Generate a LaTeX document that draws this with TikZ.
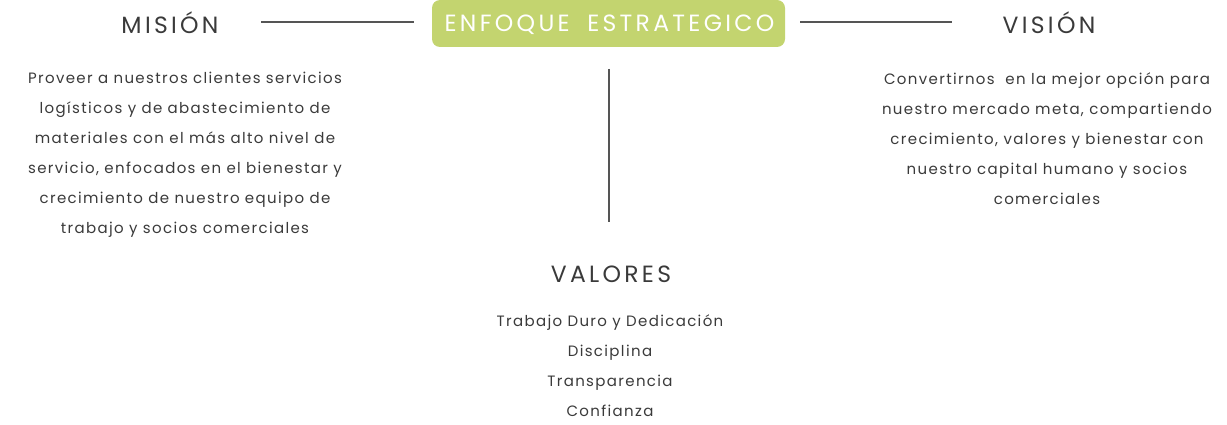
\documentclass[tikz,border=0pt]{standalone}
\usepackage{fontspec}
\setmainfont{Poppins}
\newfontfamily\spaced[LetterSpace=14]{Poppins}
\newfontfamily\bodyf[LetterSpace=9]{Poppins}
\definecolor{greenbox}{HTML}{C3D46F}
\definecolor{txt}{HTML}{3A3A3A}
\definecolor{linec}{HTML}{555555}
\begin{document}
\begin{tikzpicture}[x=1pt,y=-1pt,
  title/.style={text=txt,font=\spaced\fontsize{23.5}{26}\selectfont,inner sep=0pt,anchor=center},
  body/.style={text=txt,font=\bodyf\fontsize{15}{30}\selectfont,align=center,inner sep=0pt,anchor=north},
  conn/.style={draw=linec,line width=1.3pt}]
\useasboundingbox (0,0) rectangle (1227,425);
\node[fill=greenbox,rounded corners=8pt,minimum width=353pt,minimum height=47pt,inner sep=0pt] (enf) at (608.5,23.5) {};
\node[text=white,font=\spaced\fontsize{23.5}{26}\selectfont,inner sep=0pt] (enft) at (609.5,25) {ENFOQUE\hspace{8pt} ESTRATEGICO};
\node[title] (mis) at (170,22.5) {MISIÓN};
\node[title] (vis) at (1049,22.5) {VISIÓN};
\node[title] (val) at (611,274) {VALORES};
\coordinate (l1a) at (261,22); \coordinate (l1b) at (414,22);
\coordinate (l2a) at (800,22); \coordinate (l2b) at (952,22);
\coordinate (v1) at (609,69); \coordinate (v2) at (609,222);
\draw[conn] (l1a) -- (l1b);
\draw[conn] (l2a) -- (l2b);
\draw[conn] (v1) -- (v2);
\node[body] (mtext) at (185,72) {Proveer a nuestros clientes servicios\\logísticos y de abastecimiento de\\materiales con el más alto nivel de\\servicio, enfocados en el bienestar y\\crecimiento de nuestro equipo de\\trabajo y socios comerciales};
\node[body] (vtext) at (1047,72) {Convertirnos \ en la mejor opción para\\nuestro mercado meta, compartiendo\\crecimiento, valores y bienestar con\\nuestro capital humano y socios\\comerciales};
\node[body] (valtext) at (610,314) {Trabajo Duro y Dedicación\\Disciplina\\Transparencia\\Confianza};
\end{tikzpicture}
\end{document}
